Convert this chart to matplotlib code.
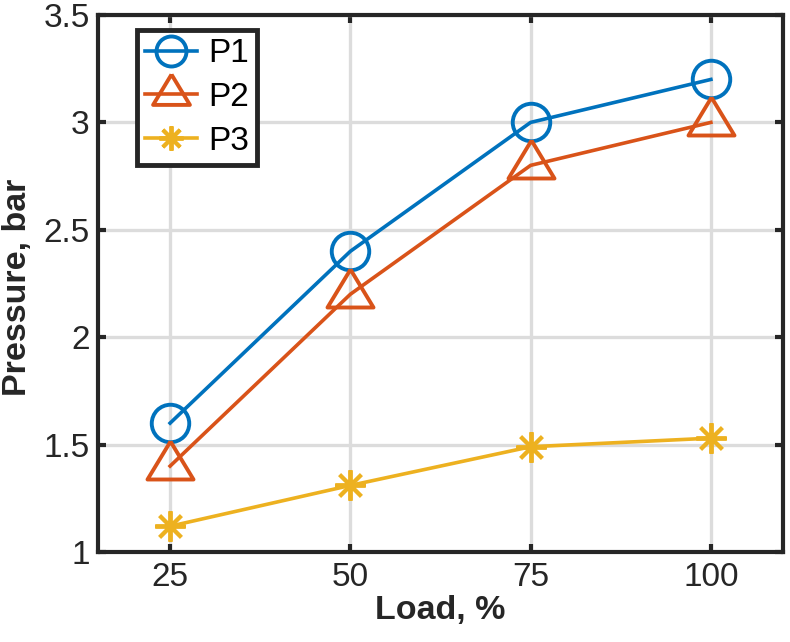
import matplotlib
matplotlib.use("Agg")
import matplotlib.pyplot as plt

load = [25, 50, 75, 100]
p1 = [1.6, 2.4, 3.0, 3.2]
p2 = [1.4, 2.2, 2.8, 3.0]
p3 = [1.12, 1.31, 1.49, 1.53]
series_names = ["P1", "P2", "P3"]
yticks = [1, 1.5, 2, 2.5, 3, 3.5]
yticklabels = ["1", "1.5", "2", "2.5", "3", "3.5"]

plt.rcParams['font.family'] = ['Liberation Sans', 'DejaVu Sans']
dark = '#262626'

fig = plt.figure(figsize=(7.9, 6.42), dpi=100)
ax = fig.add_axes([98/790, 1-552/642, (783-98)/790, (552-15)/642])

# MATLAB-like triangle (centred lower than the bounding box centre)
tri = [(0, 1), (-0.92, -0.52), (0.92, -0.52), (0, 1)]

lw = 2.6
mew = 2.8
ax.plot(load, p1, color='#0072BD', lw=lw, marker='o', ms=27, mfc='none', mew=mew, label=series_names[0], zorder=3)
ax.plot(load, p2, color='#D95319', lw=lw, marker=tri, ms=36, mfc='none', mew=mew, label=series_names[1], zorder=3)
ax.plot(load, p3, color='#EDB120', lw=lw, marker=(8, 2, 0), ms=22, mew=mew, label=series_names[2], zorder=3)

ax.set_xlim(15, 110)
ax.set_ylim(1, 3.5)
ax.set_xticks(load)
ax.set_xticklabels([str(v) for v in load])
ax.set_yticks(yticks)
ax.set_yticklabels(yticklabels)
ax.grid(True, color='#dcdcdc', lw=2.4, zorder=0)
ax.set_axisbelow(True)
ax.tick_params(direction='in', length=6, width=3, colors=dark, labelsize=24,
               top=True, right=True)
ax.tick_params(axis='x', pad=7)
ax.tick_params(axis='y', pad=6)
for s in ax.spines.values():
    s.set_linewidth(3)
    s.set_color(dark)

ax.set_xlabel("Load, %", fontsize=24.5, fontweight='bold', color=dark, labelpad=2)
ax.set_ylabel("Pressure, bar", fontsize=24.5, fontweight='bold', color=dark)
ax.yaxis.set_label_coords((33 - 98) / 685, (552 - 287) / 537)

leg = ax.legend(loc='upper left', bbox_to_anchor=((137-98)/685, (552-30)/537), borderaxespad=0,
                fontsize=24, fancybox=False, framealpha=1, edgecolor=dark, handlelength=1.55,
                borderpad=0.25, labelspacing=0.38, handletextpad=0.33, markerscale=0.8)
leg.get_frame().set_linewidth(3.5)

fig.savefig("out.png", dpi=100)
